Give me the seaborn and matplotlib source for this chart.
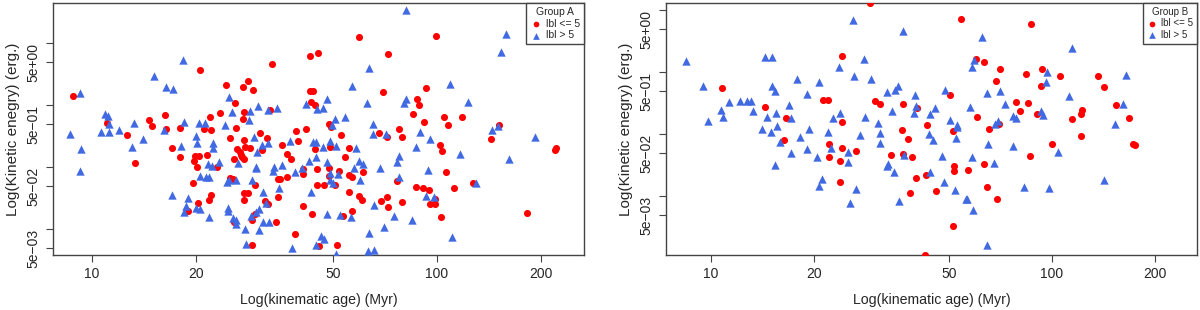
import numpy as np
import pandas as pd
import matplotlib
matplotlib.use("Agg")
import matplotlib.pyplot as plt
import seaborn as sns

# ---- data (log10 values) ----
# Group A, |b| <= 5
a_red_logage = [0.945,1.313,1.522,1.388,1.452,1.437,1.467,1.414,1.516,1.440,1.437,1.342,1.371,1.211,1.165,1.174,1.043,1.214,1.255,1.325,1.345,1.417,1.591,1.597,1.101,1.400,1.440,1.507,1.487,1.551,1.232,1.420,1.429,1.443,1.458,1.493,1.255,1.299,1.310,1.333,1.412,1.432,1.435,1.441,1.565,1.577,1.125,1.296,1.304,1.362,1.400,1.409,1.539,1.545,1.565,1.293,1.473,1.345,1.339,1.307,1.441,1.452,1.441,1.502,1.510,1.539,1.278,1.412,1.464,1.473,1.533,1.589,1.464,
                1.774,1.997,1.632,1.655,1.858,1.843,1.968,1.632,1.641,1.635,1.646,1.942,1.948,1.930,2.020,2.072,1.962,2.032,2.180,1.687,1.693,1.620,1.890,1.722,1.832,1.855,1.899,2.157,2.009,2.015,2.345,2.342,1.646,1.690,1.745,1.734,1.687,1.652,1.612,1.612,1.716,1.687,1.745,1.754,1.786,2.026,1.884,2.104,1.652,1.672,1.704,1.745,1.774,1.783,1.939,1.959,1.977,2.049,1.855,1.837,1.858,1.899,1.980,1.994,1.994,1.612,1.638,1.754,1.728,2.012,2.261,1.658,1.710]
a_red_logke = [0.151,0.570,0.667,0.328,0.393,0.296,0.247,0.038,-0.075,-0.107,-0.220,-0.188,-0.124,-0.156,-0.237,-0.333,-0.285,-0.382,-0.366,-0.382,-0.398,-0.366,-0.414,-0.575,-0.478,-0.527,-0.559,-0.527,-0.446,-0.640,-0.688,-0.704,-0.753,-0.672,-0.688,-0.720,-0.833,-0.817,-0.817,-0.801,-0.866,-0.801,-0.833,-0.866,-0.785,-0.866,-0.930,-0.898,-0.995,-0.995,-1.172,-1.188,-1.188,-1.188,-1.156,-1.253,-1.285,-1.446,-1.527,-1.575,-1.414,-1.414,-1.527,-1.543,-1.591,-1.478,-1.704,-1.882,-1.850,-1.753,-1.882,-2.075,-2.253,
               1.102,1.118,0.796,0.844,0.828,0.215,0.280,0.231,0.231,0.054,0.005,0.102,0.005,-0.140,-0.188,-0.188,-0.269,-0.317,-0.317,-0.301,-0.349,-0.382,-0.382,-0.478,-0.446,-0.511,-0.511,-0.543,-0.640,-0.736,-0.688,-0.720,-0.704,-0.672,-0.688,-0.833,-1.011,-1.027,-1.027,-1.107,-1.059,-1.140,-1.124,-1.156,-1.075,-1.075,-1.220,-1.253,-1.285,-1.285,-1.285,-1.398,-1.462,-1.527,-1.317,-1.333,-1.366,-1.333,-1.478,-1.543,-1.640,-1.559,-1.591,-1.591,-1.511,-1.624,-1.753,-1.704,-1.785,-1.801,-1.737,-2.269,-2.253]
# Group A, |b| > 5
a_blue_logage = [1.264,1.179,0.965,1.214,1.235,1.397,1.406,1.481,1.536,1.510,1.458,1.455,1.037,1.046,1.049,1.049,1.026,1.078,1.122,1.267,1.310,1.328,1.386,0.936,0.968,0.965,1.116,1.148,1.209,1.301,1.304,1.351,1.351,1.258,1.470,1.493,1.510,1.478,1.423,1.475,1.475,1.368,1.336,1.348,1.528,1.525,1.551,1.574,1.589,1.313,1.330,1.339,1.391,1.397,1.417,1.464,1.542,1.496,1.504,1.232,1.278,1.272,1.267,1.301,1.313,1.339,1.394,1.394,1.409,1.417,1.417,1.461,1.475,1.484,1.496,1.513,1.484,1.443,1.446,1.580,
                 1.910,2.200,2.185,1.803,1.754,2.037,1.681,1.620,1.652,1.670,1.797,1.905,1.910,2.090,1.705,1.734,1.815,1.696,1.815,1.853,1.951,1.980,2.160,2.177,2.284,1.641,1.649,1.690,1.707,1.670,1.765,1.939,1.649,1.890,2.067,2.209,1.629,1.681,1.774,1.786,1.884,1.608,1.690,1.713,1.759,1.834,1.973,1.690,1.698,1.777,1.890,2.113,1.635,1.968,1.991,1.681,1.719,1.751,1.818,1.876,1.928,1.847,1.803,1.664,1.672,1.649,1.707,1.800,1.818,2.043]
a_blue_logke = [0.731,0.473,0.199,0.296,0.263,0.134,-0.107,-0.011,-0.043,-0.075,-0.091,-0.237,-0.140,-0.172,-0.301,-0.430,-0.430,-0.398,-0.285,-0.269,-0.285,-0.285,-0.317,-0.462,-0.704,-1.059,-0.672,-0.543,-0.398,-0.495,-0.608,-0.608,-0.688,-0.656,-0.511,-0.640,-0.608,-0.753,-0.930,-0.995,-1.011,-0.914,-0.946,-0.979,-0.995,-1.059,-0.962,-0.575,-1.075,-1.140,-1.156,-1.156,-1.236,-1.204,-1.204,-1.204,-1.333,-1.398,-1.575,-1.446,-1.495,-1.624,-1.720,-1.656,-1.672,-1.801,-1.656,-1.704,-1.817,-1.850,-1.914,-1.785,-1.720,-1.672,-1.882,-1.882,-2.011,-1.995,-2.237,-2.301,
                1.538,1.150,0.860,0.602,0.312,0.344,0.102,0.022,-0.059,-0.043,0.038,0.038,0.102,0.054,-0.220,-0.188,-0.301,-0.317,-0.462,-0.462,-0.430,-0.543,-0.398,-0.333,-0.511,-0.591,-0.591,-0.575,-0.656,-0.672,-0.688,-0.672,-0.833,-0.817,-0.785,-0.866,-0.898,-0.914,-0.898,-0.946,-0.914,-1.011,-1.091,-1.107,-1.011,-1.011,-1.043,-1.204,-1.253,-1.204,-1.156,-1.253,-1.398,-1.462,-1.478,-1.753,-1.769,-1.801,-1.608,-1.785,-1.850,-1.962,-2.059,-2.107,-2.156,-2.253,-2.398,-2.349,-2.333,-2.124]

# Group B, |b| <= 5
b_red_logage = [1.032,1.158,1.220,1.214,1.329,1.343,1.384,1.384,1.346,1.346,1.384,1.378,1.378,1.425,1.466,1.481,1.496,1.528,1.563,1.563,1.560,1.578,1.584,1.590,1.601,1.631,1.604,1.633,1.701,1.710,1.713,1.713,1.754,1.801,1.809,1.660,1.839,1.710,1.628,1.733,1.938,1.777,1.801,1.848,1.924,1.836,1.780,1.845,1.815,1.894,1.930,1.906,1.936,1.971,2.023,2.135,1.968,2.152,2.188,1.956,2.088,2.085,2.226,2.059,2.085,2.000,2.238,2.243]
b_red_logke = [-0.252,-0.559,-0.736,-1.091,-0.446,-0.446,0.264,-0.801,-1.156,-1.365,-1.220,-1.430,-1.768,-1.268,1.119,-0.462,-0.510,-1.333,-1.317,-0.510,-0.930,-1.075,-1.946,-1.365,-1.704,-1.656,-0.575,-0.849,-0.365,-0.946,-1.510,-1.591,-1.575,-1.478,-1.849,-1.914,-2.043,-2.478,-2.946,0.861,0.780,0.215,0.167,0.054,-0.027,-0.139,-0.720,-0.833,-0.914,-0.478,-0.494,-0.623,-1.349,0.054,-0.059,-0.059,-0.220,-0.236,-0.527,-0.672,-0.607,-0.672,-0.736,-0.752,-1.027,-1.156,-1.156,-1.172]
# Group B, |b| > 5
b_blue_logage = [0.927,0.977,0.991,1.029,1.035,1.053,1.085,1.106,1.117,1.123,1.158,1.179,1.179,1.188,1.150,1.164,1.176,1.188,1.191,1.194,1.202,1.229,1.235,1.235,1.252,1.261,1.282,1.287,1.282,1.311,1.317,1.326,1.317,1.343,1.352,1.358,1.375,1.378,1.402,1.402,1.408,1.416,1.419,1.425,1.437,1.449,1.452,1.469,1.490,1.496,1.496,1.516,1.516,1.519,1.531,1.537,1.540,1.548,1.551,1.563,1.566,
                 1.795,1.771,1.765,1.598,1.686,1.809,1.848,1.862,1.601,1.595,1.642,1.657,1.760,1.701,1.721,1.721,1.719,1.639,1.651,1.842,1.833,1.886,1.894,1.812,1.886,1.677,1.765,1.830,1.642,1.683,1.716,1.748,1.751,1.768,1.918,1.809,2.059,1.985,1.982,2.217,2.050,1.968,1.974,2.208,2.185,2.018,2.152,1.991]
b_blue_logke = [0.183,-0.220,-0.785,-0.607,-0.720,-0.478,-0.462,-0.462,-0.462,-0.623,0.248,0.248,-0.220,-0.301,-0.914,-0.720,-0.962,-1.494,-0.656,-0.865,-1.123,-0.527,-0.736,-1.301,-0.107,-1.043,-0.349,-0.914,-1.236,-1.365,-0.156,-1.720,-1.833,-0.962,-1.220,-0.736,0.086,-0.656,-1.285,-1.446,-2.107,0.844,-0.059,-1.881,-1.010,0.215,-0.720,-0.107,-0.817,-0.978,-1.139,-0.317,-1.510,-1.478,-0.623,-1.607,-0.285,-0.220,-2.075,0.667,-1.333,
                0.570,0.199,0.086,-0.365,-0.285,-0.333,-0.301,-0.510,-0.543,-0.656,-0.672,-0.575,-0.559,-0.768,-0.849,-0.881,-1.059,-0.994,-1.091,-0.785,-0.833,-0.704,-0.736,-1.156,-1.188,-1.349,-1.365,-1.462,-1.607,-1.768,-1.898,-2.043,-2.043,-2.220,-1.849,-2.785,0.393,0.006,-0.156,-0.043,-0.381,-0.623,-0.688,-0.510,-0.833,-1.285,-1.736,-1.865]

labels = ["lbl <= 5", "lbl > 5"]
group_titles = ["Group A", "Group B"]
x_ticks = [10, 20, 50, 100, 200]
y_ticks = [10, 5, 1, 0.5, 0.1, 0.05, 0.01, 0.005]
y_ticklabels = ["", "5e+00", "", "5e\u221201", "", "5e\u221202", "", "5e\u221203"]
x_label = "Log(kinematic age) (Myr)"
y_label = "Log(Kinetic enegry) (erg.)"

RED = "#FF0000"
BLUE = "#4169E1"

sns.set_theme(style="white")
plt.rcParams["font.family"] = ["Liberation Sans", "DejaVu Sans"]

fig = plt.figure(figsize=(12, 3.1), dpi=100)
axA = fig.add_axes([53/1200, 1-255/310, (584-53)/1200, 252/310])
axB = fig.add_axes([666/1200, 1-255/310, (1197-666)/1200, 252/310])

panels = [
    (axA, a_red_logage, a_red_logke, a_blue_logage, a_blue_logke, (0.887, 2.426), (-2.414, 1.651), 7.5),
    (axB, b_red_logage, b_red_logke, b_blue_logage, b_blue_logke, (0.868, 2.425), (-2.946, 1.119), 7.0),
]

for i, (ax, rx, ry, bx, by, xl, yl, lfs) in enumerate(panels):
    dfr = pd.DataFrame({"age": 10**np.array(rx), "ke": 10**np.array(ry), "grp": labels[0]})
    dfb = pd.DataFrame({"age": 10**np.array(bx), "ke": 10**np.array(by), "grp": labels[1]})
    sns.scatterplot(data=dfr, x="age", y="ke", ax=ax, color=RED, marker="o", s=26,
                    linewidth=0, label=labels[0], zorder=3)
    sns.scatterplot(data=dfb, x="age", y="ke", ax=ax, color=BLUE, marker="^", s=36,
                    linewidth=0, label=labels[1], zorder=3)
    ax.set_xscale("log")
    ax.set_yscale("log")
    ax.set_xlim(10**xl[0], 10**xl[1])
    ax.set_ylim(10**yl[0], 10**yl[1])
    ax.set_xticks(x_ticks)
    ax.set_xticklabels([str(t) for t in x_ticks])
    ax.xaxis.set_minor_locator(matplotlib.ticker.NullLocator())
    ax.set_yticks(y_ticks)
    ax.set_yticklabels(y_ticklabels, rotation=90, va="center")
    ax.yaxis.set_minor_locator(matplotlib.ticker.NullLocator())
    ax.tick_params(axis="both", which="major", direction="out", length=5, width=0.8,
                   color="#444444", labelsize=10, pad=4, bottom=True, left=True)
    ax.set_xlabel(x_label, fontsize=10.2, labelpad=8)
    ax.set_ylabel(y_label, fontsize=11, labelpad=5)
    for sp in ax.spines.values():
        sp.set_visible(True)
        sp.set_color("#444444")
        sp.set_linewidth(1.0)
    ax.grid(False)
    leg = ax.legend(loc="upper right", title=group_titles[i], fontsize=lfs, title_fontsize=lfs,
                    frameon=True, fancybox=False, edgecolor="#444444", framealpha=1,
                    borderaxespad=0, handletextpad=0.3, handlelength=1.2, borderpad=0.4,
                    labelspacing=0.15, markerscale=0.8)
    leg.get_frame().set_linewidth(1.0)

fig.savefig("out.png", dpi=100)
